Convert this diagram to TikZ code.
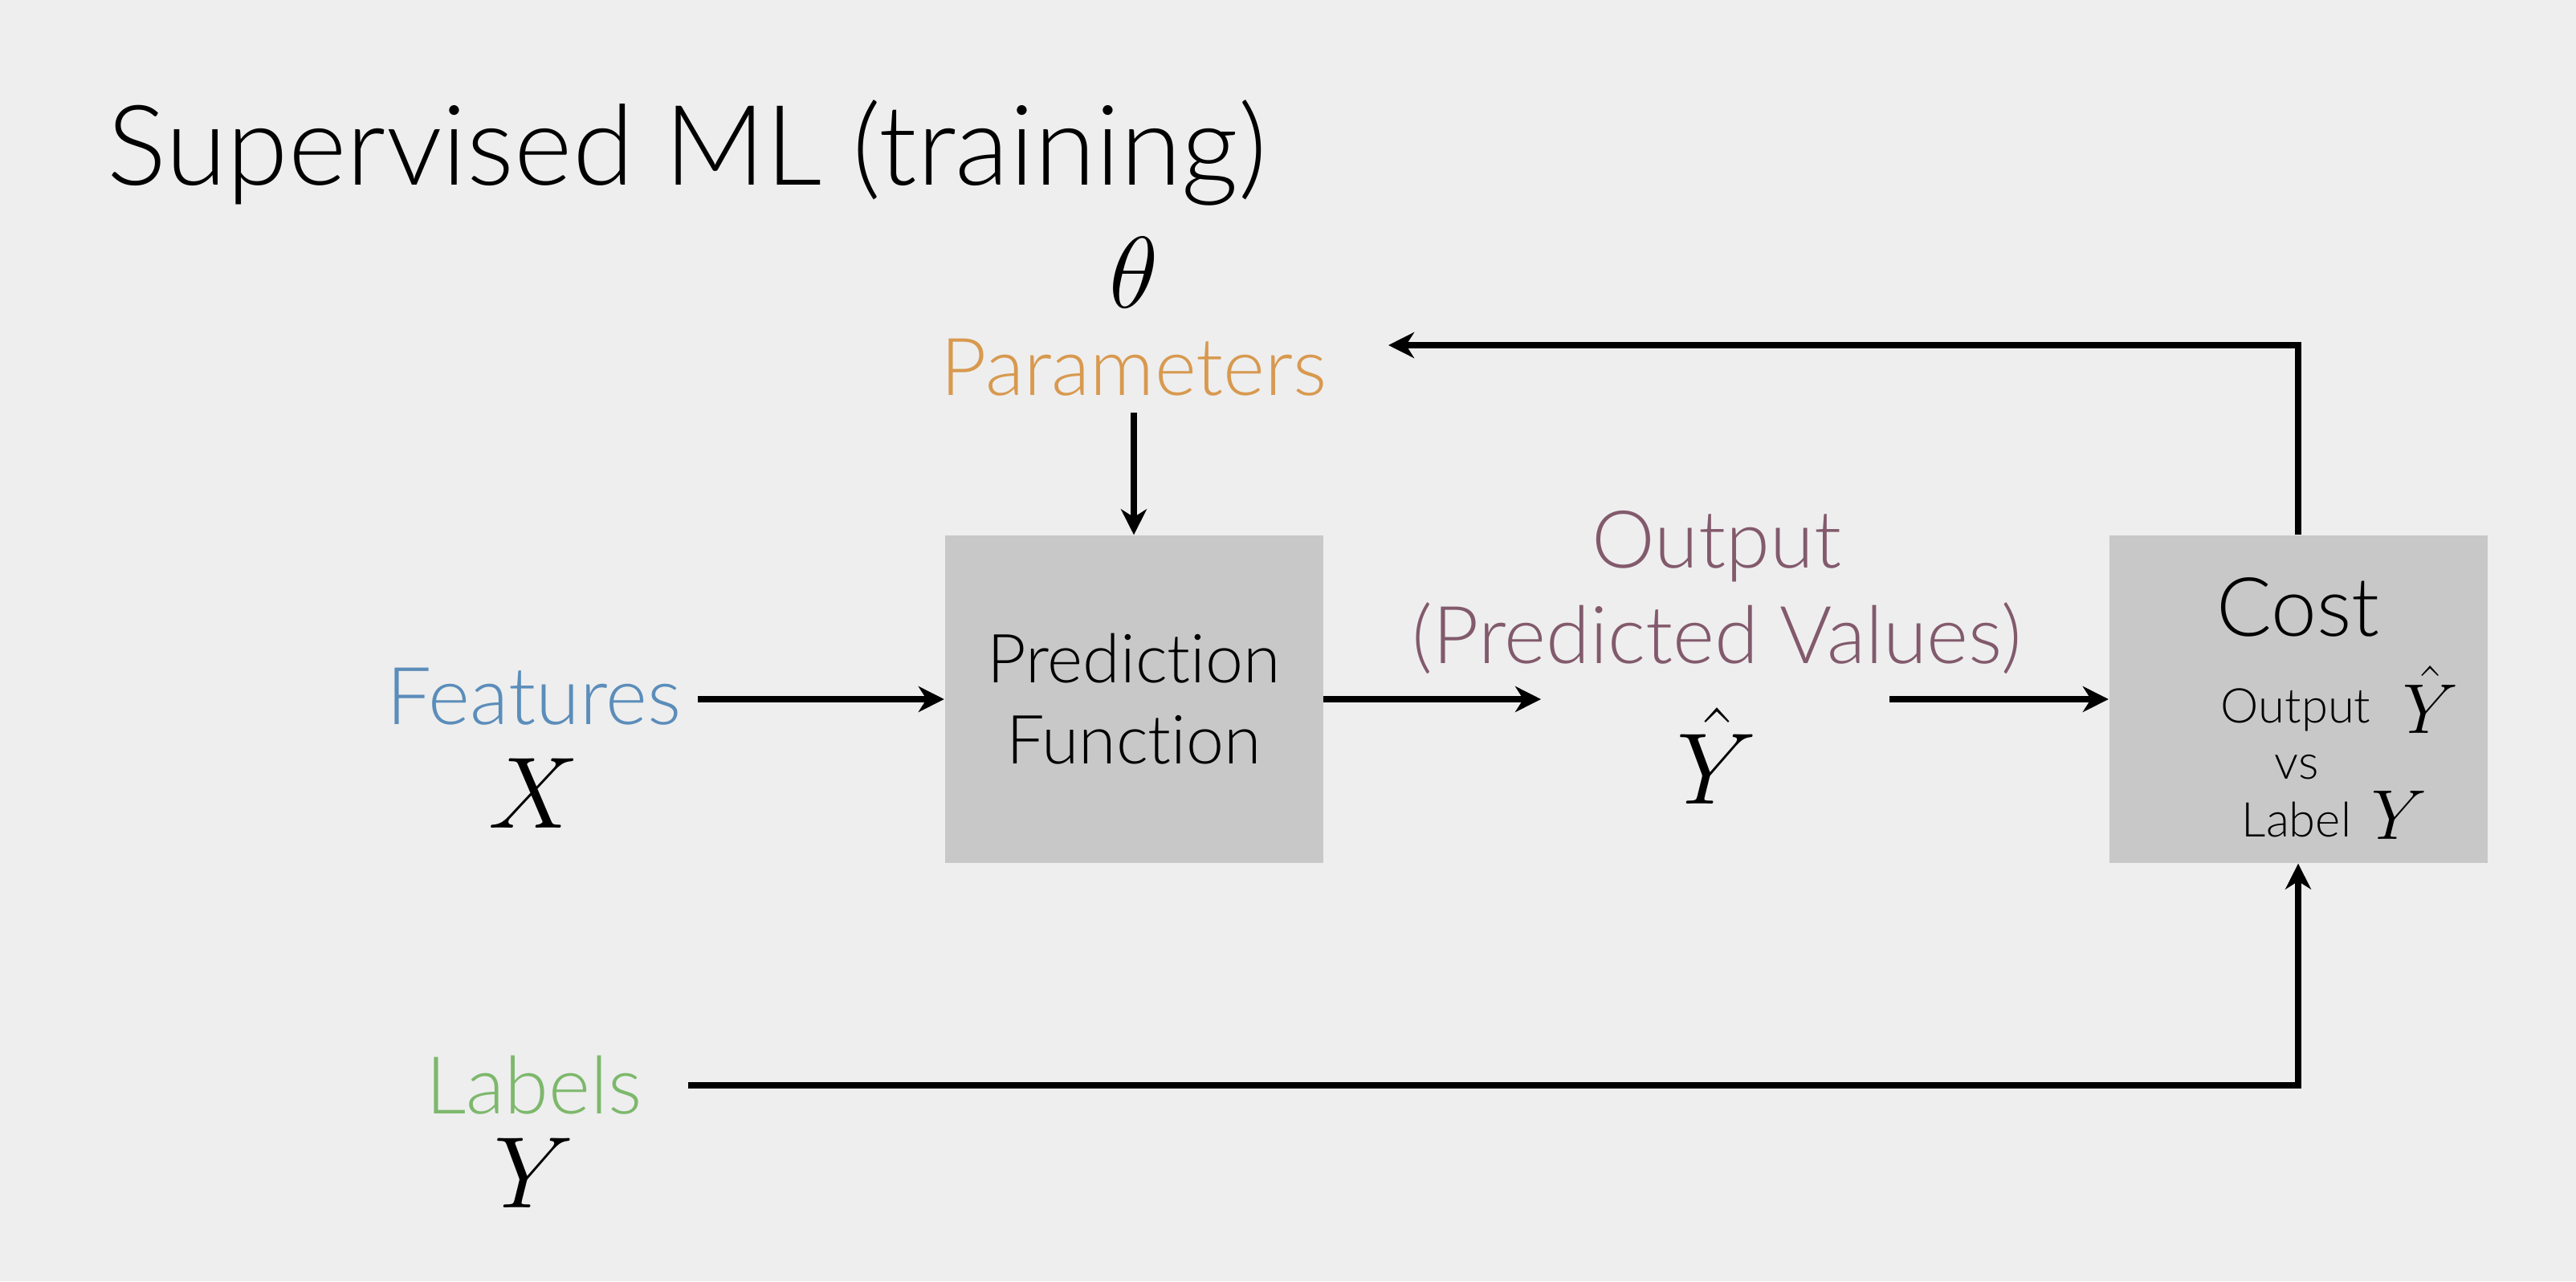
\documentclass[tikz,border=0pt]{standalone}
\usepackage{fix-cm}
\usepackage{fontspec}
\setmainfont{Lato Light}[Ligatures={CommonOff,RareOff}]
\usepackage{tikz}
\usetikzlibrary{arrows.meta,positioning}

\definecolor{bgcol}{HTML}{EEEEEE}
\definecolor{boxgray}{HTML}{C8C8C8}
\definecolor{featblue}{HTML}{5B8DBA}
\definecolor{paramorange}{HTML}{D8994F}
\definecolor{outmauve}{HTML}{825A6C}
\definecolor{labgreen}{HTML}{7DB86C}

\begin{document}
\begin{tikzpicture}[
    block/.style={rectangle, fill=boxgray, minimum width=4.71cm, minimum height=4.08cm, align=center},
    lbl/.style={inner sep=0.2cm, font=\fontsize{28.3}{34}\selectfont},
    sym/.style={inner sep=0pt, font=\fontsize{36}{40}\selectfont},
    small/.style={inner sep=0pt, anchor=base, font=\fontsize{17}{20}\selectfont},
    arr/.style={-{Stealth[length=0.32cm, width=0.32cm, inset=0.1cm]}, line width=2.5pt}]
    % Background
    \fill[bgcol] (0,0) rectangle (32.08,-15.96);
    \useasboundingbox (0,0) rectangle (32.08,-15.96);

    % Title
    \node [anchor=base west, inner sep=0pt, font=\fontsize{39.5}{48}\selectfont] (title) at (1.33,-2.30) {Supervised ML (training)};

    % Parameters
    \node [lbl, text=paramorange] (params) at (14.12,-4.58) {Parameters};
    \node [sym, above=0.18cm of params] (theta) {$\theta$};

    % Prediction Function
    \node [block, font=\fontsize{24}{28.7}\selectfont] (pred) at (14.12,-8.71) {Prediction\\Function};

    % Features
    \node [lbl, text=featblue] (feat) at (6.65,-8.68) {Features};
    \node [sym, below=0.2cm of feat] (X) {$X$};

    % Output
    \node [lbl, text=outmauve, align=center] (outlbl) at (21.38,-7.38) {Output\\(Predicted Values)};
    \node [sym, below=0.2cm of outlbl] (yhat) {$\hat{Y}$};

    % Cost
    \node [block] (cost) at (28.62,-8.71) {};
    \node [inner sep=0pt, font=\fontsize{29}{34}\selectfont] (costttl) at (28.62,-7.56) {Cost};
    \node [small] (costout) at (28.59,-9.00) {Output};
    \node [small, font=\fontsize{25}{30}\selectfont] (costyhat) at (30.27,-9.13) {$\hat{Y}$};
    \node [small] (costvs) at (28.60,-9.70) {vs};
    \node [small] (costlab) at (28.60,-10.42) {Label};
    \node [small, font=\fontsize{25}{30}\selectfont] (costy) at (29.88,-10.45) {$Y$};

    % Labels
    \node [lbl, text=labgreen] (lab) at (6.65,-13.52) {Labels};
    \node [sym, below=0.08cm of lab] (Y) {$Y$};

    % Free ends
    \coordinate (outin) at (19.19,-8.71);
    \coordinate (outout) at (23.53,-8.71);
    \coordinate (fbend) at (17.29,-4.30);

    % Arrows
    \draw [arr] (feat.east |- pred.west) -- (pred.west);
    \draw [arr] (pred.east) -- (outin);
    \draw [arr] (outout) -- (cost.west);
    \draw [arr] (params.south) -- (pred.north);
    \draw [arr] (cost.north) |- (fbend);
    \draw [arr, shorten <=0.37cm] (lab.east) -| (cost.south);
\end{tikzpicture}
\end{document}
